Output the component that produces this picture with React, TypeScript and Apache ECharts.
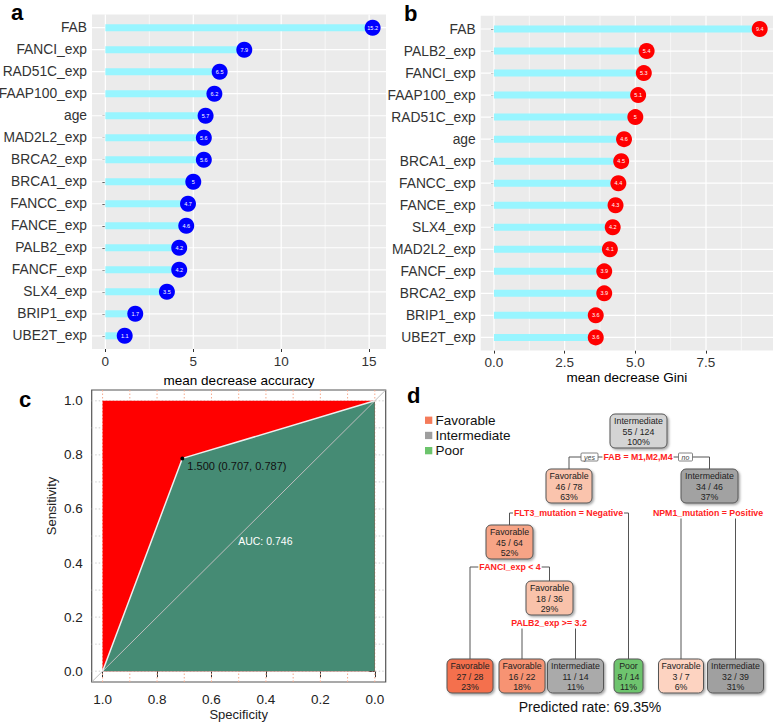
import React, { useEffect, useRef } from 'react';
import * as echarts from 'echarts';

const FONT = "'Liberation Sans', Arial, Helvetica, sans-serif";

// ---------- Panel a: mean decrease accuracy ----------
const accVars = ['FAB', 'FANCI_exp', 'RAD51C_exp', 'FAAP100_exp', 'age', 'MAD2L2_exp', 'BRCA2_exp', 'BRCA1_exp', 'FANCC_exp', 'FANCE_exp', 'PALB2_exp', 'FANCF_exp', 'SLX4_exp', 'BRIP1_exp', 'UBE2T_exp'];
const accValues = [15.2, 7.9, 6.5, 6.2, 5.7, 5.6, 5.6, 5, 4.7, 4.6, 4.2, 4.2, 3.5, 1.7, 1.1];
const accTicks = [0, 5, 10, 15];
const accMinorTicks = [2.5, 7.5, 12.5];

// ---------- Panel b: mean decrease Gini ----------
const giniVars = ['FAB', 'PALB2_exp', 'FANCI_exp', 'FAAP100_exp', 'RAD51C_exp', 'age', 'BRCA1_exp', 'FANCC_exp', 'FANCE_exp', 'SLX4_exp', 'MAD2L2_exp', 'FANCF_exp', 'BRCA2_exp', 'BRIP1_exp', 'UBE2T_exp'];
const giniValues = [9.4, 5.4, 5.3, 5.1, 5, 4.6, 4.5, 4.4, 4.3, 4.2, 4.1, 3.9, 3.9, 3.6, 3.6];
const giniTicks = [0, 2.5, 5, 7.5];
const giniMinorTicks = [1.25, 3.75, 6.25, 8.75];

// ---------- Panel c: ROC ----------
const rocSpecificity = [1, 0.707, 0];
const rocSensitivity = [0, 0.787, 1];
const rocSquareSpec = [1, 0];
const rocSquareSens = [1, 1];
const rocTicks = [0, 0.2, 0.4, 0.6, 0.8, 1];
const rocGridTicks = [0, 0.1, 0.2, 0.3, 0.4, 0.5, 0.6, 0.7, 0.8, 0.9, 1];
const bestThreshold = 1.5;
const bestSpec = 0.707;
const bestSens = 0.787;
const aucValue = 0.746;
const aucPos = [0.5, 0.48];

// ---------- Panel d: decision tree ----------
const classNames = ['Favorable', 'Intermediate', 'Poor'];
const treeClass = ['Intermediate', 'Favorable', 'Intermediate', 'Favorable', 'Favorable', 'Favorable', 'Favorable', 'Intermediate', 'Poor', 'Favorable', 'Intermediate'];
const treeCorrect = [55, 46, 34, 45, 18, 27, 16, 11, 8, 3, 32];
const treeTotal = [124, 78, 46, 64, 36, 28, 22, 14, 14, 7, 39];
const treePct = [100, 63, 37, 52, 29, 23, 18, 11, 11, 6, 31];
const splitLabels = ['FAB = M1,M2,M4', 'FLT3_mutation = Negative', 'NPM1_mutation = Positive', 'FANCI_exp < 4', 'PALB2_exp >= 3.2'];
const splitLeft = [1, 3, 9, 5, 6];
const splitRight = [2, 8, 10, 4, 7];
const predictedRate = '69.35%';

// layout / style (not data)
const nodeCX = [638.5, 569, 709.5, 509.5, 549.5, 470, 522, 575.5, 628.5, 681, 735.5];
const nodeCY = [431, 486, 486, 542, 598, 676, 676, 676, 676, 676, 676];
const nodeW = [57, 46, 57, 47, 47, 46, 46, 56, 29, 45, 56];
const nodeH = 34;
const nodeFill = ['#D4D4D4', '#FAC4AD', '#A2A2A2', '#F7A486', '#F9C2AA', '#F4704D', '#F79373', '#AAAAAA', '#6EC46E', '#FDD3C1', '#A0A0A0'];
const splitCX = [638, 568.5, 708, 510, 549];
const splitCY = [457, 513, 513, 567, 623];
const legendColors = ['#F47B5A', '#9E9E9E', '#6CC46C'];

function gridLines(axisIdx: number, vals: number[], dir: 'v' | 'h', other: number, width: number, color: string, dash?: number[]) {
  return {
    type: 'custom',
    xAxisIndex: axisIdx,
    yAxisIndex: axisIdx,
    silent: true,
    z: 1,
    data: vals.map((v) => (dir === 'v' ? [v, other] : [other, v])),
    renderItem: (params: any, api: any) => {
      const cs = params.coordSys;
      const p = api.coord([api.value(0), api.value(1)]);
      const shape = dir === 'v'
        ? { x1: p[0], y1: cs.y, x2: p[0], y2: cs.y + cs.height }
        : { x1: cs.x, y1: p[1], x2: cs.x + cs.width, y2: p[1] };
      return { type: 'line', shape, style: { stroke: color, lineWidth: width, lineDash: dash || null } };
    },
  };
}

function lollipopSeries(axisIdx: number, values: number[], dotColor: string) {
  const pts = values.map((v, i) => [v, i + 1]);
  return [
    {
      type: 'custom',
      xAxisIndex: axisIdx,
      yAxisIndex: axisIdx,
      z: 2,
      silent: true,
      data: pts,
      renderItem: (params: any, api: any) => {
        const v = api.value(0);
        const r = api.value(1);
        const p0 = api.coord([0, r]);
        const p1 = api.coord([v, r]);
        return { type: 'rect', shape: { x: p0[0], y: p0[1] - 3.5, width: p1[0] - p0[0], height: 7 }, style: { fill: '#98F5FF' } };
      },
    },
    {
      type: 'scatter',
      xAxisIndex: axisIdx,
      yAxisIndex: axisIdx,
      z: 3,
      symbolSize: 16,
      itemStyle: { color: dotColor, opacity: 1 },
      data: pts,
      label: {
        show: true,
        position: 'inside',
        formatter: (p: any) => String(p.value[0]),
        fontSize: 5.5,
        color: '#fff',
        fontFamily: FONT,
      },
    },
  ];
}

function buildTree(): any[] {
  const els: any[] = [];
  const lineStyle = { stroke: '#555', lineWidth: 1 };
  // connectors
  splitLabels.forEach((_, s) => {
    const l = splitLeft[s];
    const r = splitRight[s];
    const y = splitCY[s];
    els.push({ type: 'line', shape: { x1: nodeCX[l], y1: y, x2: nodeCX[r], y2: y }, style: lineStyle });
    els.push({ type: 'line', shape: { x1: nodeCX[l], y1: y, x2: nodeCX[l], y2: nodeCY[l] - nodeH / 2 }, style: lineStyle });
    els.push({ type: 'line', shape: { x1: nodeCX[r], y1: y, x2: nodeCX[r], y2: nodeCY[r] - nodeH / 2 }, style: lineStyle });
  });
  // split labels
  splitLabels.forEach((lab, s) => {
    els.push({
      type: 'text',
      style: {
        text: lab, x: splitCX[s], y: splitCY[s], align: 'center', verticalAlign: 'middle',
        fontFamily: FONT, fontSize: 8.8, fontWeight: 'bold', fill: '#FF2222',
        backgroundColor: '#fff', padding: [1, 1],
      },
    });
  });
  // yes / no boxes
  const yn = [['yes', 589.5, 17], ['no', 685.5, 14]];
  yn.forEach(([t, cx, w]: any) => {
    els.push({ type: 'rect', shape: { x: cx - w / 2, y: 453, width: w, height: 8, r: 1 }, style: { fill: '#fff', stroke: '#666', lineWidth: 0.8 } });
    els.push({ type: 'text', style: { text: t, x: cx, y: 457, align: 'center', verticalAlign: 'middle', fontFamily: FONT, fontSize: 7, fontStyle: 'italic', fill: '#444' } });
  });
  // nodes
  treeClass.forEach((cls, i) => {
    const w = nodeW[i];
    els.push({
      type: 'rect',
      shape: { x: nodeCX[i] - w / 2, y: nodeCY[i] - nodeH / 2, width: w, height: nodeH, r: 5 },
      style: { fill: nodeFill[i], stroke: '#555', lineWidth: 1, shadowBlur: 2, shadowOffsetX: 1.5, shadowOffsetY: 1.5, shadowColor: 'rgba(0,0,0,0.35)' },
    });
    els.push({
      type: 'text',
      style: {
        text: `${cls}\n${treeCorrect[i]} / ${treeTotal[i]}\n${treePct[i]}%`,
        x: nodeCX[i], y: nodeCY[i] + 0.5, align: 'center', verticalAlign: 'middle',
        fontFamily: FONT, fontSize: 8.8, lineHeight: 10.5, fill: '#222',
      },
    });
  });
  // legend
  classNames.forEach((c, i) => {
    const cy = 420.3 + i * 15.2;
    els.push({ type: 'rect', shape: { x: 425, y: cy - 3.7, width: 7.3, height: 7.3 }, style: { fill: legendColors[i] } });
    els.push({ type: 'text', style: { text: c, x: 435.5, y: cy, align: 'left', verticalAlign: 'middle', fontFamily: FONT, fontSize: 13.5, fill: '#111' } });
  });
  els.push({ type: 'text', style: { text: `Predicted rate: ${predictedRate}`, x: 590, y: 707, align: 'center', verticalAlign: 'middle', fontFamily: FONT, fontSize: 14, fill: '#111' } });
  return els;
}

export default function App() {
  const ref = useRef<HTMLDivElement>(null);
  useEffect(() => {
    document.body.style.margin = '0';
    if (!ref.current) return;
    const chart = echarts.init(ref.current, undefined, { renderer: 'svg' });

    const n = accVars.length;
    const accMax = Math.max(...accValues);
    const giniMax = Math.max(...giniValues);
    const axisLabelBase = { fontFamily: FONT, fontSize: 13.5, color: '#333' };
    const catLabelBase = { fontFamily: FONT, fontSize: 13.8, color: '#333' };

    const option: any = {
      animation: false,
      textStyle: { fontFamily: FONT },
      grid: [
        { left: 92, top: 14.5, width: 294, height: 334.5, show: true, backgroundColor: '#EBEBEB', borderWidth: 0, outerBoundsMode: 'none', containLabel: false },
        { left: 480.7, top: 15.8, width: 292.3, height: 334.8, show: true, backgroundColor: '#EBEBEB', borderWidth: 0, outerBoundsMode: 'none', containLabel: false },
        { left: 91.7, top: 390, width: 294, height: 292, show: true, backgroundColor: 'transparent', borderColor: '#555', borderWidth: 1.2, outerBoundsMode: 'none', containLabel: false },
      ],
      xAxis: [
        {
          gridIndex: 0, type: 'value', min: -0.05 * accMax, max: accMax * 1.05,
          axisLine: { show: false }, splitLine: { show: false },
          axisTick: { show: true, customValues: accTicks, length: 3, lineStyle: { color: '#333' } },
          axisLabel: { ...axisLabelBase, customValues: accTicks, margin: 5 },
          name: 'mean decrease accuracy', nameLocation: 'middle', nameGap: 24.5,
          nameTextStyle: { fontFamily: FONT, fontSize: 13.5, color: '#000' },
        },
        {
          gridIndex: 1, type: 'value', min: -0.05 * giniMax, max: giniMax * 1.05,
          axisLine: { show: false }, splitLine: { show: false },
          axisTick: { show: true, customValues: giniTicks, length: 3, lineStyle: { color: '#333' } },
          axisLabel: { ...axisLabelBase, customValues: giniTicks, margin: 5, formatter: (v: number) => v.toFixed(1) },
          name: 'mean decrease Gini', nameLocation: 'middle', nameGap: 19,
          nameTextStyle: { fontFamily: FONT, fontSize: 13.5, color: '#000' },
        },
        {
          gridIndex: 2, type: 'value', inverse: true, min: -0.04, max: 1.04,
          axisLine: { show: false }, splitLine: { show: false },
          axisTick: { show: true, customValues: rocTicks, length: 6, lineStyle: { color: '#333' } },
          axisLabel: { ...axisLabelBase, color: '#222', customValues: rocTicks, margin: 10, formatter: (v: number) => v.toFixed(1) },
          name: 'Specificity', nameLocation: 'middle', nameGap: 26,
          nameTextStyle: { fontFamily: FONT, fontSize: 13, color: '#222' },
        },
      ],
      yAxis: [
        {
          gridIndex: 0, type: 'value', inverse: true, min: 0.4, max: n + 0.6,
          axisLine: { show: false }, splitLine: { show: false },
          axisTick: { show: true, customValues: accVars.map((_, i) => i + 1), length: 3, lineStyle: { color: '#333' } },
          axisLabel: { ...catLabelBase, customValues: accVars.map((_, i) => i + 1), margin: 5, formatter: (v: number) => accVars[Math.round(v) - 1] || '' },
        },
        {
          gridIndex: 1, type: 'value', inverse: true, min: 0.4, max: n + 0.6,
          axisLine: { show: false }, splitLine: { show: false },
          axisTick: { show: true, customValues: giniVars.map((_, i) => i + 1), length: 3, lineStyle: { color: '#333' } },
          axisLabel: { ...catLabelBase, customValues: giniVars.map((_, i) => i + 1), margin: 5, formatter: (v: number) => giniVars[Math.round(v) - 1] || '' },
        },
        {
          gridIndex: 2, type: 'value', min: -0.04, max: 1.04,
          axisLine: { show: false }, splitLine: { show: false },
          axisTick: { show: true, customValues: rocTicks, length: 6, lineStyle: { color: '#333' } },
          axisLabel: { ...axisLabelBase, color: '#222', customValues: rocTicks, margin: 9, formatter: (v: number) => v.toFixed(1) },
        },
      ],
      series: [
        // panel a
        gridLines(0, accMinorTicks, 'v', 1, 0.6, '#FFFFFF'),
        gridLines(0, accTicks, 'v', 1, 1.2, '#FFFFFF'),
        gridLines(0, accVars.map((_, i) => i + 1), 'h', 0, 1.2, '#FFFFFF'),
        ...lollipopSeries(0, accValues, '#0000FF'),
        // panel b
        gridLines(1, giniMinorTicks, 'v', 1, 0.6, '#FFFFFF'),
        gridLines(1, giniTicks, 'v', 1, 1.2, '#FFFFFF'),
        gridLines(1, giniVars.map((_, i) => i + 1), 'h', 0, 1.2, '#FFFFFF'),
        ...lollipopSeries(1, giniValues, '#FF0000'),
        // panel c
        gridLines(2, rocGridTicks, 'v', 0.5, 1, '#F6A98C', [1.5, 2]),
        gridLines(2, rocGridTicks, 'h', 0.5, 1, '#CFCFCF', [1.5, 2]),
        {
          type: 'line', xAxisIndex: 2, yAxisIndex: 2, z: 2, silent: true, symbol: 'none',
          data: rocSquareSpec.map((s, i) => [s, rocSquareSens[i]]),
          lineStyle: { width: 0, color: '#FF0000' },
          areaStyle: { color: '#FF0000', opacity: 1, origin: 'auto' },
        },
        {
          type: 'line', xAxisIndex: 2, yAxisIndex: 2, z: 3, silent: true, symbol: 'none',
          data: rocSpecificity.map((s, i) => [s, rocSensitivity[i]]),
          lineStyle: { width: 0, color: '#458B74' },
          areaStyle: { color: '#458B74', opacity: 1, origin: 'auto' },
        },
        {
          type: 'line', xAxisIndex: 2, yAxisIndex: 2, z: 4, silent: true, symbol: 'none',
          data: [[1.04, -0.04], [-0.04, 1.04]],
          lineStyle: { width: 1, color: '#BDBDBD' },
        },
        {
          type: 'line', xAxisIndex: 2, yAxisIndex: 2, z: 5, silent: true, symbol: 'none',
          data: rocSpecificity.map((s, i) => [s, rocSensitivity[i]]),
          lineStyle: { width: 1.5, color: '#EEEEEE' },
        },
        {
          type: 'scatter', xAxisIndex: 2, yAxisIndex: 2, z: 6, silent: true,
          symbolSize: 4, itemStyle: { color: '#000', opacity: 1 },
          data: [[bestSpec, bestSens]],
          label: {
            show: true, position: [7, 10], align: 'left', verticalAlign: 'middle',
            formatter: `${bestThreshold.toFixed(3)} (${bestSpec.toFixed(3)}, ${bestSens.toFixed(3)})`,
            fontFamily: FONT, fontSize: 11, color: '#111',
          },
        },
        {
          type: 'scatter', xAxisIndex: 2, yAxisIndex: 2, z: 7, silent: true,
          symbolSize: 1, itemStyle: { color: 'rgba(0,0,0,0)' },
          data: [aucPos],
          label: {
            show: true, position: [0, 0], align: 'left', verticalAlign: 'middle',
            formatter: `AUC: ${aucValue.toFixed(3)}`,
            fontFamily: FONT, fontSize: 10.5, color: '#FFFFFF', opacity: 1,
          },
        },
      ],
      graphic: [
        { type: 'text', style: { text: 'a', x: 11, y: 12.5, verticalAlign: 'middle', fontFamily: FONT, fontSize: 22, fontWeight: 'bold', fill: '#000' } },
        { type: 'text', style: { text: 'b', x: 404, y: 13, verticalAlign: 'middle', fontFamily: FONT, fontSize: 22, fontWeight: 'bold', fill: '#000' } },
        { type: 'text', style: { text: 'c', x: 19, y: 399.5, verticalAlign: 'middle', fontFamily: FONT, fontSize: 22, fontWeight: 'bold', fill: '#000' } },
        { type: 'text', style: { text: 'd', x: 407, y: 395.5, verticalAlign: 'middle', fontFamily: FONT, fontSize: 22, fontWeight: 'bold', fill: '#000' } },
        { type: 'text', rotation: Math.PI / 2, x: 51, y: 506, style: { text: 'Sensitivity', x: 0, y: 0, align: 'center', verticalAlign: 'middle', fontFamily: FONT, fontSize: 13, fill: '#222' } },
        ...buildTree(),
      ],
    };
    chart.setOption(option);
    return () => chart.dispose();
  }, []);
  return <div ref={ref} style={{ width: 777, height: 724 }} />;
}
